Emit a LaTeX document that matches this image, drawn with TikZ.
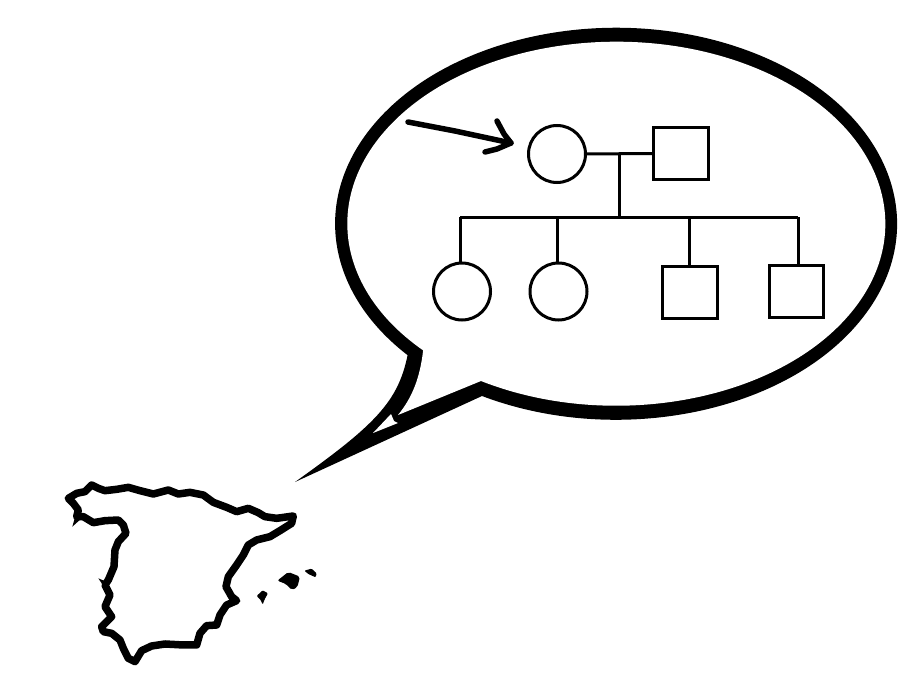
\documentclass[tikz,border=0pt]{standalone}
\tikzset{
    fem/.style={draw, circle, line width=3pt, minimum size=57pt, inner sep=0pt},
    mal/.style={draw, rectangle, line width=3pt, minimum width=#1, minimum height=52pt, inner sep=0pt},
    mal/.default=55pt,
    kin/.style={line width=3pt},
    coast/.style={line width=7.5pt, line join=round},
    pointer/.style={line width=5.5pt, line cap=round, line join=round}
}
\begin{document}
    \begin{tikzpicture}[x=1pt, y=-1pt]
        \useasboundingbox (0,0) rectangle (921,690);

        \fill (482,396) arc[start angle=241.5, end angle=582.1, x radius=281pt, y radius=196pt]
            .. controls (398,402) and (375,425) .. (295,482) -- cycle;
        \fill[white] (481,381) arc[start angle=239.8, end angle=584.1, x radius=269pt, y radius=182pt]
            .. controls (420,378) and (412,398) .. (398,415) -- cycle;
        \fill[white] (373,433) -- (391,414) -- (394,421) -- (398,423) -- cycle;

        \node[fem] (mother) at (557,154) {};
        \node[mal] (father) at (681,153.5) {};
        \node[fem] (dau1) at (462,291.5) {};
        \node[fem] (dau2) at (558.5,291.5) {};
        \node[mal] (son1) at (690,292) {};
        \node[mal=54pt] (son2) at (796,291.5) {};

        \coordinate (couple) at (619,153);
        \coordinate (sibs) at (619,217);
        \coordinate (top1) at (460,217);
        \coordinate (top2) at (557,217);
        \coordinate (top3) at (689,217);
        \coordinate (top4) at (798,217);

        \draw[kin] (mother) -- (father);
        \draw[kin] (couple) -- (sibs);
        \draw[kin] (top1) -- (top4);
        \draw[kin] (top1) -- (top1 |- dau1.north);
        \draw[kin] (top2) -- (top2 |- dau2.north);
        \draw[kin] (top3) -- (top3 |- son1.north);
        \draw[kin] (top4) -- (top4 |- son2.north);

        \coordinate (tail) at (408,122);
        \coordinate (tip) at (511,143);
        \draw[pointer] (tail) -- (455,131) -- (tip);
        \draw[pointer] (497,121) -- (504,134) -- (tip) -- (497,149) -- (485,152);

        \begin{scope}[shift={(40,460)}, x=0.3333pt, y=-0.3333pt]
            \draw[coast] (85,115) -- (110,100) -- (135,95) -- (155,75) -- (175,85) -- (195,92)
                -- (230,88) -- (265,82) -- (300,92) -- (340,102) -- (385,90) -- (415,102)
                -- (450,97) -- (490,105) -- (520,127) -- (560,142) -- (590,155) -- (625,145)
                -- (655,158) -- (675,170) -- (710,175) -- (760,168) -- (755,190) -- (720,212)
                -- (690,230) -- (650,240) -- (625,255) -- (610,285) -- (590,315) -- (565,350)
                -- (558,380) -- (575,410) -- (590,422) -- (560,435) -- (540,465) -- (530,495)
                -- (500,497) -- (480,520) -- (470,555) -- (430,555) -- (375,552) -- (335,558)
                -- (305,572) -- (285,605) -- (265,595) -- (250,565) -- (240,540) -- (215,520)
                -- (190,515) -- (185,500) -- (215,470) -- (195,440) -- (210,405) -- (195,375)
                -- (205,360) -- (222,320) -- (225,270) -- (235,245) -- (258,220) -- (250,195)
                -- (235,180) -- (195,182) -- (160,188) -- (130,170) -- (110,170) -- (115,150)
                -- (100,130) -- cycle;
            \fill (97,200) -- (105,172) -- (125,175) -- cycle;
            \fill (175,355) -- (205,368) -- (195,385) -- cycle;
            \fill[rounded corners=2pt] (712,362) -- (745,336) -- (780,350) -- (772,382) -- (755,390) -- (738,372) -- cycle;
            \fill[rounded corners=1pt] (793,332) -- (815,326) -- (830,340) -- (827,352) -- (805,342) -- cycle;
            \fill[rounded corners=1pt] (650,408) -- (668,391) -- (684,400) -- (674,418) -- (668,434) -- (662,420) -- cycle;
        \end{scope}
    \end{tikzpicture}
\end{document}
